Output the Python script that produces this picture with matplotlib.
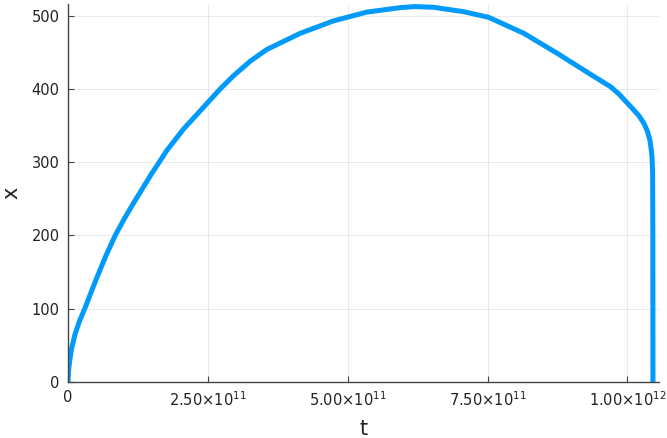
import numpy as np
import matplotlib

matplotlib.use("Agg")

import matplotlib.pyplot as plt

plt.rcParams["font.family"] = ["DejaVu Sans"]
plt.rcParams["mathtext.fontset"] = "dejavusans"

# t values (in units of 1e12) and x values
t_e12 = [0.0, 0.001, 0.0036, 0.0065, 0.0125, 0.02, 0.0304, 0.04, 0.0513,
         0.067, 0.0841, 0.1, 0.117, 0.1467,
         0.1766, 0.2062, 0.2362, 0.272, 0.2958, 0.3258, 0.3556, 0.4152, 0.4748,
         0.5345, 0.5941, 0.62, 0.6537, 0.7074, 0.752, 0.8148, 0.8745, 0.9341,
         0.97, 0.985, 1.0057, 1.02, 1.0296, 1.036, 1.0403, 1.0428, 1.044,
         1.0451, 1.0455, 1.0456, 1.0457]
x_vals = [0.0, 16, 32, 46, 65, 82, 101, 120, 142,
          171, 199.7, 222, 244, 281,
          316, 345, 370, 400, 418, 438, 454, 476, 493,
          505, 511, 512.5, 511.5, 505.5, 497.8, 476, 448.7, 420,
          403, 393, 376, 364, 353, 342, 330, 316, 307.5,
          285, 200, 80, 0]

x_ticks = [0, 2.5e11, 5e11, 7.5e11, 1e12]
x_tick_labels = ["0", "2.50×10$^{11}$", "5.00×10$^{11}$", "7.50×10$^{11}$", "1.00×10$^{12}$"]
y_ticks = [0, 100, 200, 300, 400, 500]

t = np.array(t_e12) * 1e12

fig = plt.figure(figsize=(6.67, 4.38), dpi=100)
ax = fig.add_axes([68 / 667, 56 / 438, 591 / 667, 378 / 438])

ax.plot(t, x_vals, color="#009AFA", linewidth=3.6, solid_capstyle="butt",
        solid_joinstyle="round")

ax.set_xlim(0, 1.0565e12)
ax.set_ylim(0, 516)
ax.set_xticks(x_ticks)
ax.set_xticklabels(x_tick_labels)
ax.set_yticks(y_ticks)

ax.grid(True, color="#000000", alpha=0.08, linewidth=0.8)
ax.set_axisbelow(True)
for side in ["top", "right"]:
    ax.spines[side].set_visible(False)
for side in ["left", "bottom"]:
    ax.spines[side].set_color("#444444")
    ax.spines[side].set_linewidth(1.0)

ax.tick_params(direction="in", length=4, width=0.8, color="#444444",
               labelsize=10.5, labelcolor="#222222", pad=6)

ax.set_xlabel("t", fontsize=15, color="#222222", labelpad=7)
ax.set_ylabel("x", fontsize=15, color="#222222", labelpad=7)

fig.savefig("out.png", dpi=100)
plt.close(fig)
